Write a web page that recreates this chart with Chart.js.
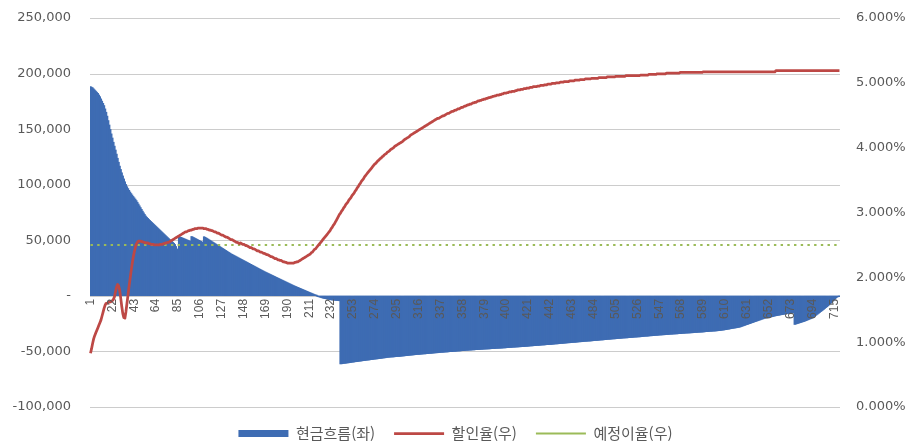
<!DOCTYPE html>
<html lang="ko">
<head>
<meta charset="utf-8">
<title>현금흐름 및 할인율</title>
<script src="https://cdn.jsdelivr.net/npm/chart.js@4/dist/chart.umd.min.js"></script>
<style>
  html, body { margin: 0; padding: 0; background: #ffffff; }
  #wrap { position: relative; width: 911px; height: 443px; }
</style>
</head>
<body>
<div id="wrap"><canvas id="chart"></canvas></div>
<script>
// Elapsed months 1..720; every 21st month is labelled on the axis
const periods = Array.from({ length: 720 }, (_, i) => i + 1);
const LABEL_STEP = 21;

// Monthly net cash flow (KRW), one row per year
const cashFlow = [
  188000, 187500, 187000, 186000, 185000, 184000, 183000, 182000, 180500, 179000, 177000, 175000,
  173000, 171000, 168000, 165000, 161500, 157500, 153500, 149500, 145500, 141800, 138000, 134500,
  131000, 127300, 123600, 120000, 116500, 113500, 110500, 107700, 105000, 102400, 100000, 98000,
  96300, 94700, 93200, 91800, 90500, 89200, 88000, 86800, 85500, 84000, 82400, 80800,
  79200, 77600, 76000, 74500, 73000, 71600, 70500, 69500, 68500, 67600, 66700, 65800,
  64900, 64000, 63100, 62200, 61300, 60400, 59500, 58600, 57700, 56800, 55900, 55000,
  54100, 53200, 52300, 51400, 50500, 49600, 48800, 48000, 47100, 46000, 44200, 42000,
  40000, 53000, 52800, 52400, 52000, 51600, 51200, 50800, 50400, 50000, 49600, 49200,
  48800, 53200, 52800, 52300, 51800, 51300, 50800, 50300, 49800, 49300, 48800, 48300,
  47800, 53000, 52500, 52000, 51400, 50800, 50200, 49600, 49000, 48400, 47800, 47200,
  46600, 46000, 45400, 44800, 44200, 43600, 43000, 42400, 41800, 41200, 40600, 40000,
  39400, 38800, 38200, 37600, 37100, 36600, 36100, 35600, 35100, 34600, 34100, 33600,
  33100, 32600, 32100, 31600, 31100, 30600, 30100, 29600, 29100, 28600, 28100, 27600,
  27100, 26600, 26100, 25600, 25100, 24600, 24100, 23600, 23100, 22600, 22100, 21600,
  21150, 20700, 20250, 19800, 19350, 18900, 18450, 18000, 17550, 17100, 16650, 16200,
  15750, 15300, 14850, 14400, 13950, 13500, 13050, 12600, 12150, 11700, 11250, 10800,
  10350, 9900, 9450, 9000, 8600, 8200, 7800, 7400, 7000, 6600, 6200, 5800,
  5400, 5000, 4600, 4200, 3800, 3400, 3000, 2600, 2200, 1800, 1400, 1000,
  600, 200, -200, -600, -900, -1200, -1500, -1800, -2000, -2200, -2400, -2600,
  -2800, -3000, -3200, -3400, -3500, -3600, -3700, -3800, -3900, -4000, -4100, -4200,
  -61000, -60900, -60800, -60600, -60500, -60400, -60200, -60100, -60000, -59800, -59700, -59500,
  -59400, -59300, -59100, -59000, -58900, -58800, -58600, -58500, -58400, -58200, -58100, -58000,
  -57900, -57700, -57600, -57500, -57400, -57200, -57100, -57000, -56800, -56700, -56600, -56500,
  -56400, -56200, -56100, -56000, -55900, -55700, -55600, -55500, -55300, -55200, -55100, -55000,
  -54900, -54800, -54800, -54700, -54600, -54500, -54400, -54300, -54300, -54200, -54100, -54000,
  -53900, -53800, -53700, -53600, -53500, -53400, -53300, -53200, -53100, -53000, -52900, -52800,
  -52700, -52600, -52500, -52500, -52400, -52300, -52200, -52100, -52000, -52000, -51900, -51800,
  -51700, -51600, -51500, -51500, -51400, -51300, -51200, -51100, -51000, -51000, -50900, -50800,
  -50700, -50600, -50600, -50500, -50400, -50300, -50300, -50200, -50100, -50000, -50000, -49900,
  -49800, -49700, -49700, -49600, -49500, -49400, -49400, -49300, -49200, -49100, -49100, -49000,
  -48900, -48800, -48800, -48700, -48600, -48600, -48500, -48400, -48400, -48300, -48200, -48200,
  -48100, -48000, -48000, -47900, -47900, -47800, -47700, -47700, -47600, -47600, -47500, -47500,
  -47400, -47300, -47300, -47200, -47200, -47100, -47000, -47000, -46900, -46900, -46800, -46800,
  -46700, -46600, -46600, -46500, -46400, -46400, -46300, -46200, -46200, -46100, -46000, -46000,
  -45900, -45800, -45800, -45700, -45600, -45600, -45500, -45400, -45400, -45300, -45200, -45200,
  -45100, -45000, -44900, -44800, -44800, -44700, -44600, -44600, -44500, -44400, -44400, -44300,
  -44200, -44100, -44000, -44000, -43900, -43800, -43700, -43700, -43600, -43500, -43500, -43400,
  -43300, -43200, -43100, -43000, -43000, -42900, -42800, -42700, -42600, -42600, -42500, -42400,
  -42300, -42200, -42100, -42000, -42000, -41900, -41800, -41700, -41600, -41600, -41500, -41400,
  -41300, -41200, -41100, -41100, -41000, -40900, -40800, -40700, -40700, -40600, -40500, -40500,
  -40400, -40300, -40200, -40100, -40000, -39900, -39900, -39800, -39700, -39600, -39500, -39500,
  -39400, -39300, -39200, -39100, -39000, -38900, -38900, -38800, -38700, -38600, -38500, -38500,
  -38400, -38300, -38200, -38100, -38100, -38000, -37900, -37800, -37700, -37700, -37600, -37600,
  -37500, -37400, -37300, -37200, -37200, -37100, -37000, -36900, -36900, -36800, -36700, -36700,
  -36600, -36500, -36400, -36300, -36200, -36100, -36100, -36000, -35900, -35800, -35700, -35700,
  -35600, -35500, -35400, -35300, -35300, -35200, -35100, -35000, -35000, -34900, -34800, -34800,
  -34700, -34600, -34600, -34500, -34400, -34300, -34300, -34200, -34100, -34100, -34000, -34000,
  -33900, -33800, -33800, -33700, -33600, -33500, -33500, -33400, -33300, -33300, -33200, -33200,
  -33100, -33000, -33000, -32900, -32800, -32700, -32700, -32600, -32500, -32500, -32400, -32400,
  -32300, -32200, -32100, -32000, -32000, -31900, -31800, -31700, -31700, -31600, -31500, -31500,
  -31400, -31300, -31200, -31100, -31000, -30900, -30700, -30600, -30500, -30300, -30200, -30000,
  -29800, -29700, -29500, -29300, -29100, -29000, -28800, -28700, -28500, -28300, -28200, -28000,
  -27700, -27400, -27000, -26700, -26400, -26000, -25700, -25400, -25000, -24700, -24400, -24000,
  -23700, -23400, -23000, -22700, -22400, -22000, -21700, -21400, -21000, -20700, -20400, -20000,
  -19800, -19600, -19400, -19200, -19000, -18800, -18600, -18400, -18100, -17900, -17700, -17500,
  -17300, -17200, -17000, -16800, -16700, -16500, -16300, -16200, -16000, -15800, -15700, -15500,
  -15400, -15300, -15200, -15000, -25500, -25200, -24900, -24600, -24300, -24000, -23700, -23400,
  -23100, -22800, -22500, -22100, -21700, -21300, -20900, -20500, -20100, -19600, -19000, -18300,
  -17600, -16900, -16200, -15500, -14800, -14000, -13300, -12600, -11900, -11100, -10300, -9600,
  -8800, -8000, -7100, -6200, -5300, -4300, -3300, -2300, -1400, -800, -400, -200
];

// Monthly discount rate (%), one row per year
const discountRate = [
  0.83, 0.90, 0.98, 1.05, 1.10, 1.14, 1.18, 1.22, 1.26, 1.30, 1.34, 1.40,
  1.46, 1.52, 1.57, 1.60, 1.60, 1.61, 1.62, 1.62, 1.63, 1.64, 1.66, 1.70,
  1.78, 1.85, 1.89, 1.87, 1.80, 1.68, 1.55, 1.44, 1.38, 1.37, 1.47, 1.60,
  1.73, 1.86, 1.98, 2.10, 2.21, 2.31, 2.39, 2.46, 2.51, 2.54, 2.56, 2.56,
  2.56, 2.55, 2.55, 2.54, 2.54, 2.53, 2.53, 2.53, 2.52, 2.52, 2.51, 2.51,
  2.51, 2.50, 2.50, 2.50, 2.50, 2.50, 2.50, 2.51, 2.51, 2.51, 2.52, 2.52,
  2.53, 2.53, 2.54, 2.54, 2.55, 2.56, 2.57, 2.58, 2.59, 2.60, 2.61, 2.62,
  2.63, 2.64, 2.65, 2.66, 2.67, 2.68, 2.69, 2.70, 2.70, 2.71, 2.72, 2.72,
  2.73, 2.73, 2.74, 2.74, 2.75, 2.75, 2.75, 2.76, 2.76, 2.76, 2.76, 2.76,
  2.76, 2.75, 2.75, 2.75, 2.74, 2.74, 2.73, 2.73, 2.72, 2.72, 2.71, 2.70,
  2.70, 2.69, 2.68, 2.68, 2.67, 2.66, 2.65, 2.65, 2.64, 2.63, 2.62, 2.62,
  2.61, 2.60, 2.59, 2.58, 2.58, 2.57, 2.56, 2.55, 2.54, 2.54, 2.53, 2.52,
  2.53, 2.52, 2.51, 2.51, 2.50, 2.49, 2.49, 2.48, 2.47, 2.46, 2.46, 2.45,
  2.44, 2.44, 2.43, 2.42, 2.41, 2.41, 2.40, 2.39, 2.39, 2.38, 2.37, 2.37,
  2.36, 2.35, 2.35, 2.34, 2.33, 2.32, 2.32, 2.31, 2.30, 2.29, 2.29, 2.28,
  2.27, 2.27, 2.26, 2.26, 2.25, 2.24, 2.24, 2.23, 2.23, 2.22, 2.22, 2.22,
  2.22, 2.22, 2.22, 2.22, 2.23, 2.23, 2.24, 2.24, 2.25, 2.26, 2.27, 2.28,
  2.29, 2.30, 2.31, 2.32, 2.33, 2.34, 2.35, 2.36, 2.38, 2.39, 2.41, 2.43,
  2.44, 2.46, 2.48, 2.50, 2.52, 2.54, 2.56, 2.58, 2.60, 2.62, 2.64, 2.66,
  2.68, 2.70, 2.72, 2.75, 2.77, 2.80, 2.82, 2.85, 2.88, 2.91, 2.94, 2.97,
  2.99, 3.02, 3.04, 3.07, 3.09, 3.12, 3.14, 3.16, 3.19, 3.21, 3.23, 3.26,
  3.28, 3.30, 3.33, 3.35, 3.38, 3.40, 3.43, 3.45, 3.48, 3.50, 3.52, 3.55,
  3.57, 3.59, 3.61, 3.63, 3.65, 3.67, 3.69, 3.71, 3.73, 3.75, 3.76, 3.78,
  3.80, 3.81, 3.83, 3.84, 3.86, 3.87, 3.89, 3.90, 3.91, 3.93, 3.94, 3.95,
  3.97, 3.98, 3.99, 4.00, 4.02, 4.03, 4.04, 4.05, 4.06, 4.07, 4.08, 4.09,
  4.10, 4.12, 4.13, 4.14, 4.15, 4.16, 4.17, 4.19, 4.20, 4.21, 4.22, 4.23,
  4.24, 4.25, 4.26, 4.27, 4.28, 4.29, 4.30, 4.31, 4.32, 4.33, 4.34, 4.35,
  4.36, 4.37, 4.38, 4.39, 4.40, 4.41, 4.42, 4.43, 4.44, 4.45, 4.45, 4.46,
  4.47, 4.48, 4.49, 4.49, 4.50, 4.51, 4.52, 4.53, 4.53, 4.54, 4.55, 4.56,
  4.56, 4.57, 4.58, 4.58, 4.59, 4.60, 4.60, 4.61, 4.62, 4.62, 4.63, 4.64,
  4.64, 4.65, 4.66, 4.66, 4.67, 4.67, 4.68, 4.69, 4.69, 4.70, 4.70, 4.71,
  4.72, 4.72, 4.73, 4.73, 4.74, 4.74, 4.75, 4.75, 4.76, 4.76, 4.77, 4.77,
  4.78, 4.78, 4.79, 4.79, 4.80, 4.80, 4.81, 4.81, 4.81, 4.82, 4.82, 4.83,
  4.83, 4.84, 4.84, 4.84, 4.85, 4.85, 4.86, 4.86, 4.86, 4.87, 4.87, 4.87,
  4.88, 4.88, 4.89, 4.89, 4.89, 4.90, 4.90, 4.90, 4.91, 4.91, 4.91, 4.92,
  4.92, 4.92, 4.93, 4.93, 4.93, 4.94, 4.94, 4.94, 4.94, 4.95, 4.95, 4.95,
  4.96, 4.96, 4.96, 4.96, 4.97, 4.97, 4.97, 4.98, 4.98, 4.98, 4.98, 4.99,
  4.99, 4.99, 4.99, 5.00, 5.00, 5.00, 5.00, 5.01, 5.01, 5.01, 5.01, 5.02,
  5.02, 5.02, 5.02, 5.02, 5.03, 5.03, 5.03, 5.03, 5.03, 5.04, 5.04, 5.04,
  5.04, 5.04, 5.05, 5.05, 5.05, 5.05, 5.05, 5.06, 5.06, 5.06, 5.06, 5.06,
  5.06, 5.07, 5.07, 5.07, 5.07, 5.07, 5.07, 5.07, 5.08, 5.08, 5.08, 5.08,
  5.08, 5.08, 5.08, 5.08, 5.09, 5.09, 5.09, 5.09, 5.09, 5.09, 5.09, 5.09,
  5.10, 5.10, 5.10, 5.10, 5.10, 5.10, 5.10, 5.10, 5.10, 5.10, 5.11, 5.11,
  5.11, 5.11, 5.11, 5.11, 5.11, 5.11, 5.11, 5.11, 5.11, 5.11, 5.11, 5.11,
  5.12, 5.12, 5.12, 5.12, 5.12, 5.12, 5.12, 5.12, 5.13, 5.13, 5.13, 5.13,
  5.13, 5.13, 5.13, 5.13, 5.14, 5.14, 5.14, 5.14, 5.14, 5.14, 5.14, 5.14,
  5.14, 5.15, 5.15, 5.15, 5.15, 5.15, 5.15, 5.15, 5.15, 5.15, 5.15, 5.15,
  5.15, 5.15, 5.16, 5.16, 5.16, 5.16, 5.16, 5.16, 5.16, 5.16, 5.16, 5.16,
  5.16, 5.16, 5.16, 5.16, 5.16, 5.16, 5.16, 5.16, 5.16, 5.16, 5.16, 5.16,
  5.17, 5.17, 5.17, 5.17, 5.17, 5.17, 5.17, 5.17, 5.17, 5.17, 5.17, 5.17,
  5.17, 5.17, 5.17, 5.17, 5.17, 5.17, 5.17, 5.17, 5.17, 5.17, 5.17, 5.17,
  5.17, 5.17, 5.17, 5.17, 5.17, 5.17, 5.17, 5.17, 5.17, 5.17, 5.17, 5.17,
  5.17, 5.17, 5.17, 5.17, 5.17, 5.17, 5.17, 5.17, 5.17, 5.17, 5.17, 5.17,
  5.17, 5.17, 5.17, 5.17, 5.17, 5.17, 5.17, 5.17, 5.17, 5.17, 5.17, 5.17,
  5.17, 5.17, 5.17, 5.17, 5.17, 5.17, 5.17, 5.17, 5.17, 5.17, 5.19, 5.19,
  5.19, 5.19, 5.19, 5.19, 5.19, 5.19, 5.19, 5.19, 5.19, 5.19, 5.19, 5.19,
  5.19, 5.19, 5.19, 5.19, 5.19, 5.19, 5.19, 5.19, 5.19, 5.19, 5.19, 5.19,
  5.19, 5.19, 5.19, 5.19, 5.19, 5.19, 5.19, 5.19, 5.19, 5.19, 5.19, 5.19,
  5.19, 5.19, 5.19, 5.19, 5.19, 5.19, 5.19, 5.19, 5.19, 5.19, 5.19, 5.19,
  5.19, 5.19, 5.19, 5.19, 5.19, 5.19, 5.19, 5.19, 5.19, 5.19, 5.19, 5.19
];

// Assumed (pricing) interest rate, %, flat over the whole horizon
const assumedRate = 2.5;

// Left axis (KRW) and right axis (%) ranges
const cashTicks = { min: -100000, max: 250000, step: 50000 };
const rateTicks = { min: 0, max: 6, step: 1 };

const GRID = '#CCCCCC';
const TEXT = '#595959';
const LEGEND_HEIGHT = 36;

// Keep the legend band compact below the plot
const legendBand = {
  id: 'legendBand',
  beforeLayout(chart) {
    const legend = chart.legend;
    if (legend && !legend._bandFit) {
      const baseFit = legend.fit;
      legend.fit = function () {
        baseFit.call(this);
        this.height = LEGEND_HEIGHT;
      };
      legend._bandFit = true;
    }
  }
};

// Horizontal value lines at every tick of the left (KRW) axis, under the series
const valueGrid = {
  id: 'valueGrid',
  beforeDatasetsDraw(chart) {
    const { ctx, chartArea, scales } = chart;
    const yScale = scales.y;
    if (!yScale || !chartArea) return;
    ctx.save();
    ctx.globalCompositeOperation = 'source-over';
    ctx.globalAlpha = 1;
    ctx.setLineDash([]);
    ctx.strokeStyle = GRID;
    ctx.lineWidth = 1;
    for (const tick of yScale.ticks) {
      const py = Math.round(yScale.getPixelForValue(tick.value)) + 0.5;
      ctx.beginPath();
      ctx.moveTo(chartArea.left, py);
      ctx.lineTo(chartArea.right, py);
      ctx.stroke();
    }
    ctx.restore();
  }
};

new Chart(document.getElementById('chart'), {
  data: {
    labels: periods,
    datasets: [
      {
        type: 'bar',
        label: '현금흐름(좌)',
        data: cashFlow,
        yAxisID: 'y',
        backgroundColor: '#3E6CB3',
        borderWidth: 0,
        barPercentage: 1,
        categoryPercentage: 1,
        inflateAmount: 0.6,
        pointStyle: 'rect',
        order: 3
      },
      {
        type: 'line',
        label: '할인율(우)',
        data: discountRate,
        yAxisID: 'y1',
        borderColor: '#BD4845',
        backgroundColor: '#BD4845',
        borderWidth: 2.75,
        borderJoinStyle: 'round',
        pointRadius: 0,
        tension: 0,
        fill: false,
        pointStyle: 'line',
        order: 1
      },
      {
        type: 'line',
        label: '예정이율(우)',
        data: [
          { x: periods[0], y: assumedRate },
          { x: periods[periods.length - 1], y: assumedRate }
        ],
        yAxisID: 'y1',
        borderColor: '#9BBB59',
        backgroundColor: '#9BBB59',
        borderWidth: 2,
        borderDash: [2.4, 4.3],
        pointRadius: 0,
        fill: false,
        pointStyle: 'line',
        order: 2
      }
    ]
  },
  options: {
    responsive: true,
    maintainAspectRatio: false,
    animation: false,
    devicePixelRatio: 1,
    layout: { padding: { top: 18, left: 0, right: 0, bottom: 0 } },
    plugins: {
      tooltip: { enabled: false },
      legend: {
        position: 'bottom',
        labels: {
          usePointStyle: true,
          pointStyleWidth: 50,
          boxHeight: 7,
          padding: 19,
          color: TEXT,
          font: { family: "'Noto Sans CJK KR', sans-serif", size: 15 },
          sort: (a, b) => a.datasetIndex - b.datasetIndex
        }
      }
    },
    scales: {
      x: {
        position: { y: 0 },
        offset: true,
        grid: { display: false, drawTicks: false },
        border: { display: false },
        ticks: {
          z: 1,
          autoSkip: false,
          minRotation: 90,
          maxRotation: 90,
          padding: 3,
          color: TEXT,
          font: { family: "'Liberation Sans', Arial, sans-serif", size: 12 },
          callback(value, index) {
            return index % LABEL_STEP === 0 ? String(this.getLabelForValue(value)) : '';
          }
        },
        afterFit(scale) { scale.height = 0; }
      },
      y: {
        position: 'left',
        min: cashTicks.min,
        max: cashTicks.max,
        grid: {
          display: true,
          drawOnChartArea: false,
          color: GRID,
          lineWidth: 1,
          drawTicks: true,
          tickLength: 15,
          tickWidth: 0
        },
        border: { display: false },
        ticks: {
          stepSize: cashTicks.step,
          padding: 4,
          color: TEXT,
          font: { family: "'DejaVu Sans', sans-serif", size: 13 },
          callback: v => (v === 0 ? '-' : v.toLocaleString('en-US'))
        },
        afterFit(scale) { scale.width = 90; }
      },
      y1: {
        position: 'right',
        min: rateTicks.min,
        max: rateTicks.max,
        grid: { display: false, drawOnChartArea: false, drawTicks: true, tickLength: 12, tickWidth: 0 },
        border: { display: false },
        ticks: {
          stepSize: rateTicks.step,
          padding: 4,
          color: TEXT,
          font: { family: "'DejaVu Sans', sans-serif", size: 13 },
          callback: v => v.toFixed(3) + '%'
        },
        afterFit(scale) { scale.width = 71; }
      }
    }
  },
  plugins: [legendBand, valueGrid]
});
</script>
</body>
</html>
